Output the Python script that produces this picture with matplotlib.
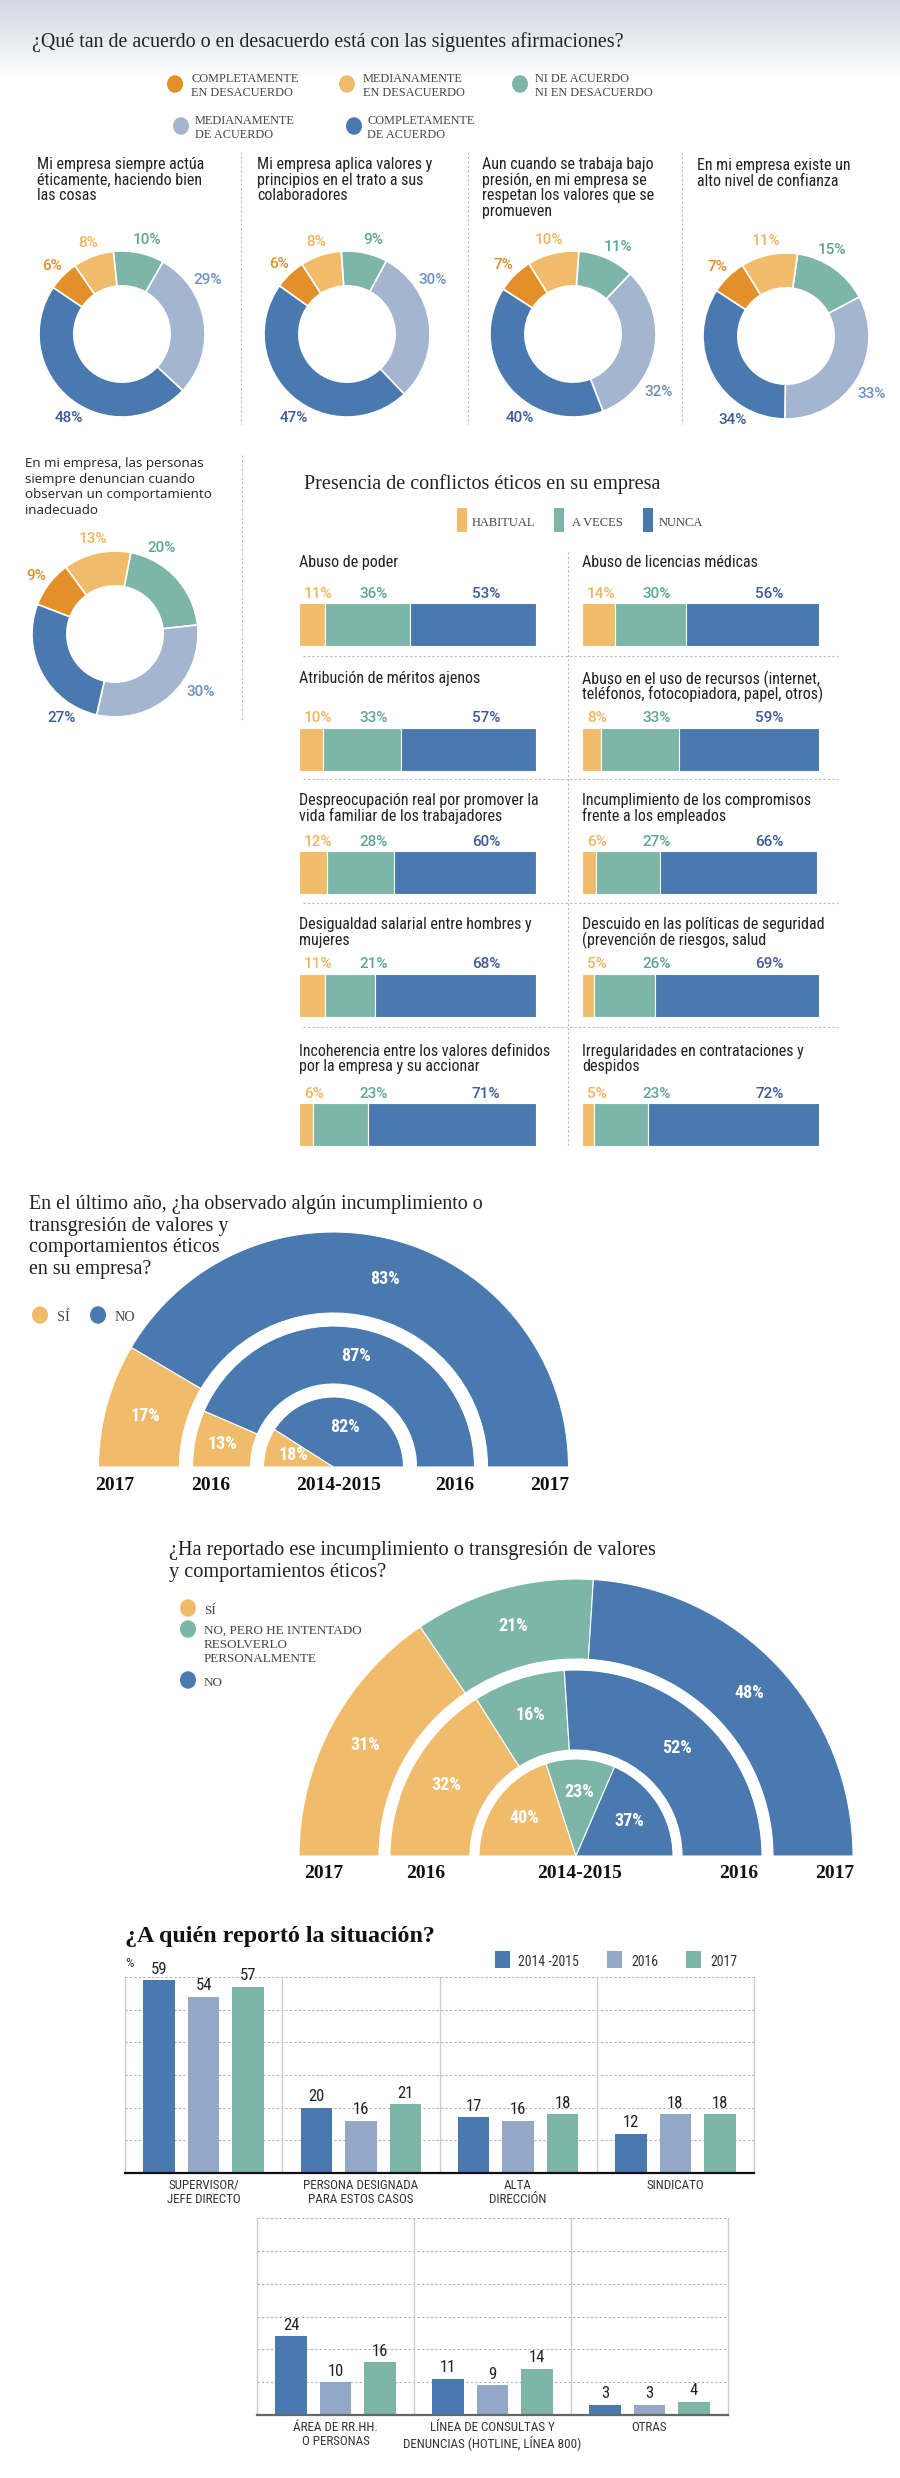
import matplotlib
matplotlib.use('Agg')
import matplotlib.pyplot as plt
import numpy as np
from matplotlib import font_manager as fm
from matplotlib.patches import Rectangle, Ellipse
from matplotlib.colors import LinearSegmentedColormap

# ---------------- DATA ----------------
donut_questions = [
    "Mi empresa siempre actúa\néticamente, haciendo bien\nlas cosas",
    "Mi empresa aplica valores y\nprincipios en el trato a sus\ncolaboradores",
    "Aun cuando se trabaja bajo\npresión, en mi empresa se\nrespetan los valores que se\npromueven",
    "En mi empresa existe un\nalto nivel de confianza",
    "En mi empresa, las personas\nsiempre denuncian cuando\nobservan un comportamiento\ninadecuado",
]
agree_labels = ["COMPLETAMENTE\nEN DESACUERDO", "MEDIANAMENTE\nEN DESACUERDO",
                "NI DE ACUERDO\nNI EN DESACUERDO", "MEDIANAMENTE\nDE ACUERDO",
                "COMPLETAMENTE\nDE ACUERDO"]
comp_desacuerdo = [6, 6, 7, 7, 9]
med_desacuerdo = [8, 8, 10, 11, 13]
ni_ni = [10, 9, 11, 15, 20]
med_acuerdo = [29, 30, 32, 33, 30]
comp_acuerdo = [48, 47, 40, 34, 27]

conf_legend = ["HABITUAL", "A VECES", "NUNCA"]
conf_left_labels = ["Abuso de poder", "Atribución de méritos ajenos",
                    "Despreocupación real por promover la\nvida familiar de los trabajadores",
                    "Desigualdad salarial entre hombres y\nmujeres",
                    "Incoherencia entre los valores definidos\npor la empresa y su accionar"]
conf_left_habitual = [11, 10, 12, 11, 6]
conf_left_aveces = [36, 33, 28, 21, 23]
conf_left_nunca = [53, 57, 60, 68, 71]
conf_right_labels = ["Abuso de licencias médicas",
                     "Abuso en el uso de recursos (internet,\nteléfonos, fotocopiadora, papel, otros)",
                     "Incumplimiento de los compromisos\nfrente a los empleados",
                     "Descuido en las políticas de seguridad\n(prevención de riesgos, salud",
                     "Irregularidades en contrataciones y\ndespidos"]
conf_right_habitual = [14, 8, 6, 5, 5]
conf_right_aveces = [30, 33, 27, 26, 23]
conf_right_nunca = [56, 59, 66, 69, 72]

years_order = ["2017", "2016", "2014-2015"]   # outer -> inner
observed_si = [17, 13, 18]
observed_no = [83, 87, 82]

reported_si = [31, 32, 40]
reported_intento = [21, 16, 23]
reported_no = [48, 52, 37]

report_years = ["2014 -2015", "2016", "2017"]
report_cats_a = ["SUPERVISOR/\nJEFE DIRECTO", "PERSONA DESIGNADA\nPARA ESTOS CASOS",
                 "ALTA\nDIRECCIÓN", "SINDICATO"]
report_a_1415 = [59, 20, 17, 12]
report_a_2016 = [54, 16, 16, 18]
report_a_2017 = [57, 21, 18, 18]
report_cats_b = ["ÁREA DE RR.HH.\nO PERSONAS", "LÍNEA DE CONSULTAS Y\nDENUNCIAS (HOTLINE, LÍNEA 800)",
                 "OTRAS"]
report_b_1415 = [24, 11, 3]
report_b_2016 = [10, 9, 3]
report_b_2017 = [16, 14, 4]

# ---------------- STYLE ----------------
def pick(*names):
    for n in names:
        try:
            fm.findfont(fm.FontProperties(family=n), fallback_to_default=False)
            return n
        except Exception:
            continue
    return 'DejaVu Sans'

SERIF = pick('Liberation Serif', 'DejaVu Serif')
COND = pick('Liberation Sans Narrow', 'Roboto Condensed', 'Open Sans Condensed', 'Roboto')
NUM = pick('Roboto', 'Open Sans', 'DejaVu Sans')
SANS = pick('Open Sans', 'Noto Sans', 'DejaVu Sans')

C_OR, C_LO, C_TE, C_LB, C_DB, C_LB2 = '#e38f2a', '#f0bc6c', '#7db6a9', '#a3b5cf', '#4a79b0', '#93a8c7'
T_OR, T_LO, T_TE, T_LB, T_DB = '#e38f2a', '#efb55f', '#5fa593', '#6f8fc0', '#3d5a9b'
TXT = '#222222'

W, H = 900, 2478
fig = plt.figure(figsize=(9, 24.78), dpi=100)
fig.patch.set_facecolor('white')
renderer = fig.canvas.get_renderer()


def fit(s, family, target_px, weight='normal', lo=6, hi=22):
    """font size (pt) such that the string s spans target_px pixels"""
    t = fig.text(0, 0, s, fontsize=10, family=family, fontweight=weight)
    w = t.get_window_extent(renderer).width
    t.remove()
    return float(np.clip(10 * target_px / w, lo, hi))


bg = fig.add_axes([0, 0, 1, 1])
bg.axis('off')
cm = LinearSegmentedColormap.from_list('g', ['#d3dae4', '#e6eaf0', '#ffffff'])
bg.imshow(np.linspace(0, 1, 200)[:, None], cmap=cm, extent=[0, W, 78, 0], aspect='auto', zorder=0)
bg.set_xlim(0, W); bg.set_ylim(H, 0)


def px_axes(x0, y0, w, h):
    ax = fig.add_axes([x0 / W, 1 - (y0 + h) / H, w / W, h / H])
    ax.patch.set_facecolor('none')
    return ax


def T(x, y, s, size, family, color=TXT, ha='left', weight='normal', va='center_baseline'):
    bg.text(x, y, s, fontsize=size, family=family, color=color, ha=ha, va=va, fontweight=weight)


def ML(x, y, s, dy, size, family, **kw):
    for i, line in enumerate(s.split('\n')):
        T(x, y + i * dy, line, size, family, **kw)


def vdots(x, y0, y1):
    bg.plot([x, x], [y0, y1], color='#b8b8b8', lw=0.8, ls=(0, (2, 2)))


def hdots(x0, x1, y):
    bg.plot([x0, x1], [y, y], color='#b8b8b8', lw=0.8, ls=(0, (2, 2)))


def dot(x, y, c, r=8):
    bg.add_patch(Ellipse((x, y), 2 * r, 2 * r + 1.5, color=c, lw=0))


# font sizes fitted to the widths measured on the reference
FS_TITLE = fit("¿Qué tan de acuerdo o en desacuerdo está con las siguentes afirmaciones?", SERIF, 591)
FS_LEG1 = fit("NI EN DESACUERDO", SERIF, 108) * 1.1
FS_Q = fit("Mi empresa siempre actúa", COND, 166)
FS_Q5 = fit("observan un comportamiento", SANS, 186)
FS_T2 = fit("Presencia de conflictos éticos en su empresa", SERIF, 357)
FS_LEG2 = fit("HABITUAL", SERIF, 57) * 1.12
FS_BARLAB = fit("Incoherencia entre los valores definidos", COND, 250)
FS_T3 = fit("En el último año, ¿ha observado algún incumplimiento o", SERIF, 453)
FS_T4 = fit("¿Ha reportado ese incumplimiento o transgresión de valores", SERIF, 487)
FS_LEG4 = fit("NO, PERO HE INTENTADO", SERIF, 152) * 1.04
FS_T5 = fit("¿A quién reportó la situación?", SERIF, 310, weight='bold')
FS_CAT = fit("DENUNCIAS (HOTLINE, LÍNEA 800)", COND, 179)
FS_YEAR = fit("2014-2015", SERIF, 84, weight='bold')

# ---------------- SECTION 1: donuts ----------------
T(32, 40, "¿Qué tan de acuerdo o en desacuerdo está con las siguentes afirmaciones?", FS_TITLE, SERIF)
agree_cols = [C_OR, C_LO, C_TE, C_LB, C_DB]
leg_pos = [(175, 191, 85), (347, 363, 85), (520, 535, 85), (181, 195, 127), (354, 367, 127)]
for (dx, tx, ty), lab, c in zip(leg_pos, agree_labels, agree_cols):
    dot(dx, ty - 1, c)
    ML(tx, ty - 7, lab, 13.8, FS_LEG1, SERIF, color='#444444')

q_pos = [(37, 163), (257, 163), (482, 163), (697, 164)]
for (qx, qy), q in zip(q_pos, donut_questions[:4]):
    ML(qx, qy, q, 15.7, FS_Q, COND)
ML(25, 462, donut_questions[4], 15.6, FS_Q5, SANS)
for x in (241, 468, 682):
    vdots(x, 152, 424)
vdots(242, 455, 722)

R = 83
donut_centers = [(122, 334), (347, 334), (573, 334), (786, 336), (115, 634)]
donut_start = [96, 94, 86, 82, 79]
text_cols = [T_OR, T_LO, T_TE, T_LB, T_DB]
order = [2, 3, 4, 0, 1]
for i, (cx, cy) in enumerate(donut_centers):
    vals = [comp_desacuerdo[i], med_desacuerdo[i], ni_ni[i], med_acuerdo[i], comp_acuerdo[i]]
    ax = px_axes(cx - R, cy - R, 2 * R, 2 * R)
    wedges, _ = ax.pie([vals[k] for k in order], colors=[agree_cols[k] for k in order],
                       startangle=donut_start[i], counterclock=False, radius=1,
                       wedgeprops=dict(width=0.42, edgecolor='white', linewidth=1.2))
    ax.set_xlim(-1, 1); ax.set_ylim(-1, 1); ax.set_aspect('equal'); ax.axis('off')
    for w, k in zip(wedges, order):
        mid = (w.theta1 + w.theta2) / 2.0
        mid = (mid + 180) % 360 - 180
        rr = 1.19 * R
        if k == 2:
            mid = max(mid - 3, 62)
        if k == 3:
            mid = 32.6 if mid > 0 else -33.5
            rr = 1.23 * R
        if k == 4:
            mid = 237
            rr = 1.18 * R
        a = np.deg2rad(mid)
        T(cx + rr * np.cos(a), cy - rr * np.sin(a), f"{vals[k]}%", 11, NUM,
          color=text_cols[k], ha='center', weight='medium')

# ---------------- SECTION 2: conflicts ----------------
T(304, 482, "Presencia de conflictos éticos en su empresa", FS_T2, SERIF)
for (rx, tx), lab, c in zip([(457, 472), (554, 572), (643, 659)], conf_legend, [C_LO, C_TE, C_DB]):
    bg.add_patch(Rectangle((rx, 508), 10, 24, color=c, lw=0))
    T(tx, 521, lab, FS_LEG2, SERIF, color='#444444')

PW, BH = 237, 43
bar_tops = [603, 728, 851, 974, 1103]
pct_y = [592, 717, 840, 963, 1092]
lab_y = [561, 677, 799, 923, 1050]
panels = [(299, conf_left_labels, conf_left_habitual, conf_left_aveces, conf_left_nunca),
          (582, conf_right_labels, conf_right_habitual, conf_right_aveces, conf_right_nunca)]
for x0, labs, hab, ave, nun in panels:
    for r in range(5):
        ML(x0, lab_y[r], labs[r], 15.5, FS_BARLAB, COND)
        ax = px_axes(x0, bar_tops[r], PW, BH)
        left = 0
        for v, c in zip([hab[r], ave[r], nun[r]], [C_LO, C_TE, C_DB]):
            ax.barh(0, v, left=left, height=1, color=c, edgecolor='white', linewidth=0.8)
            left += v
        ax.set_xlim(0, 100); ax.set_ylim(-0.5, 0.5); ax.axis('off')
        for off, v, c in zip([5, 60, 173], [hab[r], ave[r], nun[r]], [T_LO, T_TE, T_DB]):
            T(x0 + off, pct_y[r], f"{v}%", 11, NUM, color=c, weight='medium')
for y in (656, 779, 903, 1027):
    hdots(303, 838, y)
vdots(568, 552, 1148)

# ---------------- SECTION 3: observed ----------------
def semicircle(cx, cy, rings, series, colors, label_r):
    Rout = rings[0][0]
    ax = px_axes(cx - Rout, cy - Rout, 2 * Rout, 2 * Rout)
    for j, ((ro, ri), lr) in enumerate(zip(rings, label_r)):
        vals = [s[j] for s in series]
        tot = sum(vals)
        wedges, _ = ax.pie(vals + [tot], colors=colors + ['white'], radius=ro, startangle=180,
                           counterclock=False,
                           wedgeprops=dict(width=ro - ri, edgecolor='white', linewidth=0.8))
        wedges[-1].set_visible(False)
        for w, v in zip(wedges[:-1], vals):
            a = np.deg2rad((w.theta1 + w.theta2) / 2.0)
            ax.text(lr * np.cos(a), lr * np.sin(a), f"{v}%", color='white', fontsize=13,
                    family=COND, fontweight='bold', ha='center', va='center')
    ax.set_xlim(-Rout, Rout); ax.set_ylim(-Rout, Rout); ax.set_aspect('equal'); ax.axis('off')


ML(29, 1202, "En el último año, ¿ha observado algún incumplimiento o\ntransgresión de valores y\ncomportamientos éticos\nen su empresa?", 21.7, FS_T3, SERIF)
dot(40, 1315, C_LO); T(57, 1316, "SÍ", FS_LEG4 * 1.08, SERIF, color='#444444')
dot(98, 1315, C_DB); T(115, 1316, "NO", FS_LEG4 * 1.08, SERIF, color='#444444')
semicircle(333.5, 1467, [(235, 154), (141, 83), (70, 0)], [observed_si, observed_no],
           [C_LO, C_DB], [195, 113, 42])
for x, s, ha in [(95, years_order[0], 'left'), (191, years_order[1], 'left'),
                 (339, years_order[2], 'center'), (474, years_order[1], 'right'),
                 (569, years_order[0], 'right')]:
    T(x, 1483, s, FS_YEAR, SERIF, color='#111111', ha=ha, weight='bold')

# ---------------- SECTION 4: reported ----------------
ML(169, 1548, "¿Ha reportado ese incumplimiento o transgresión de valores\ny comportamientos éticos?", 22.5, FS_T4, SERIF)
dot(188, 1608, C_LO); T(204, 1609, "SÍ", FS_LEG4, SERIF, color='#444444')
dot(188, 1629, C_TE); ML(204, 1629, "NO, PERO HE INTENTADO\nRESOLVERLO\nPERSONALMENTE", 14.3, FS_LEG4, SERIF, color='#444444')
dot(188, 1680, C_DB); T(204, 1681, "NO", FS_LEG4, SERIF, color='#444444')
semicircle(576, 1856, [(277, 197), (186, 106), (97, 0)],
           [reported_si, reported_intento, reported_no], [C_LO, C_TE, C_DB], [238, 148, 64])
for x, s, ha in [(304, years_order[0], 'left'), (406, years_order[1], 'left'),
                 (580, years_order[2], 'center'), (758, years_order[1], 'right'),
                 (854, years_order[0], 'right')]:
    T(x, 1872, s, FS_YEAR, SERIF, color='#111111', ha=ha, weight='bold')

# ---------------- SECTION 5: to whom ----------------
T(125, 1934, "¿A quién reportó la situación?", FS_T5, SERIF, color='#111111', weight='bold')
for (rx, tx), lab, c in zip([(495, 518), (607, 631), (686, 710)], report_years, [C_DB, C_LB2, C_TE]):
    bg.add_patch(Rectangle((rx, 1951), 15, 17, color=c, lw=0))
    T(tx, 1961, lab, 10, COND, color='#333333')
T(125, 1962, "%", 9.5, COND, color='#333333')


def grouped(x0, y0, x1, y1, cats, s1, s2, s3, base_col):
    ax = px_axes(x0, y0, x1 - x0, y1 - y0)
    n = len(cats)
    idx = np.arange(n)
    for j, (vals, col) in enumerate(zip([s1, s2, s3], [C_DB, C_LB2, C_TE])):
        xs = idx + (j - 1) * 0.283
        ax.bar(xs, vals, width=0.2, color=col, zorder=3, edgecolor='none')
        for xb, v in zip(xs, vals):
            ax.text(xb, v + 3.4, str(v), ha='center', va='center', fontsize=12,
                    family=COND, color='#222222', zorder=4)
    ax.set_xlim(-0.5, n - 0.5); ax.set_ylim(0, 60)
    for yv in range(10, 61, 10):
        ax.axhline(yv, color='#b0b0b0', lw=0.8, ls=(0, (2, 2)), zorder=1)
    for xv in np.arange(-0.5, n, 1.0):
        ax.axvline(xv, color='#cccccc', lw=1.0, zorder=1, clip_on=False)
    for s in ('top', 'left', 'right'):
        ax.spines[s].set_visible(False)
    ax.spines['bottom'].set_color(base_col)
    ax.spines['bottom'].set_linewidth(1.6)
    ax.spines['bottom'].set_zorder(5)
    ax.set_yticks([])
    ax.set_xticks(idx)
    ax.set_xticklabels(cats, fontsize=FS_CAT, family=COND, color='#333333', linespacing=1.1)
    ax.tick_params(axis='x', length=0, pad=4)


grouped(125, 1977, 754, 2173, report_cats_a, report_a_1415, report_a_2016, report_a_2017, '#111111')
grouped(257, 2218, 728, 2415, report_cats_b, report_b_1415, report_b_2016, report_b_2017, '#666666')

fig.savefig('out.png', dpi=100, facecolor='white')
